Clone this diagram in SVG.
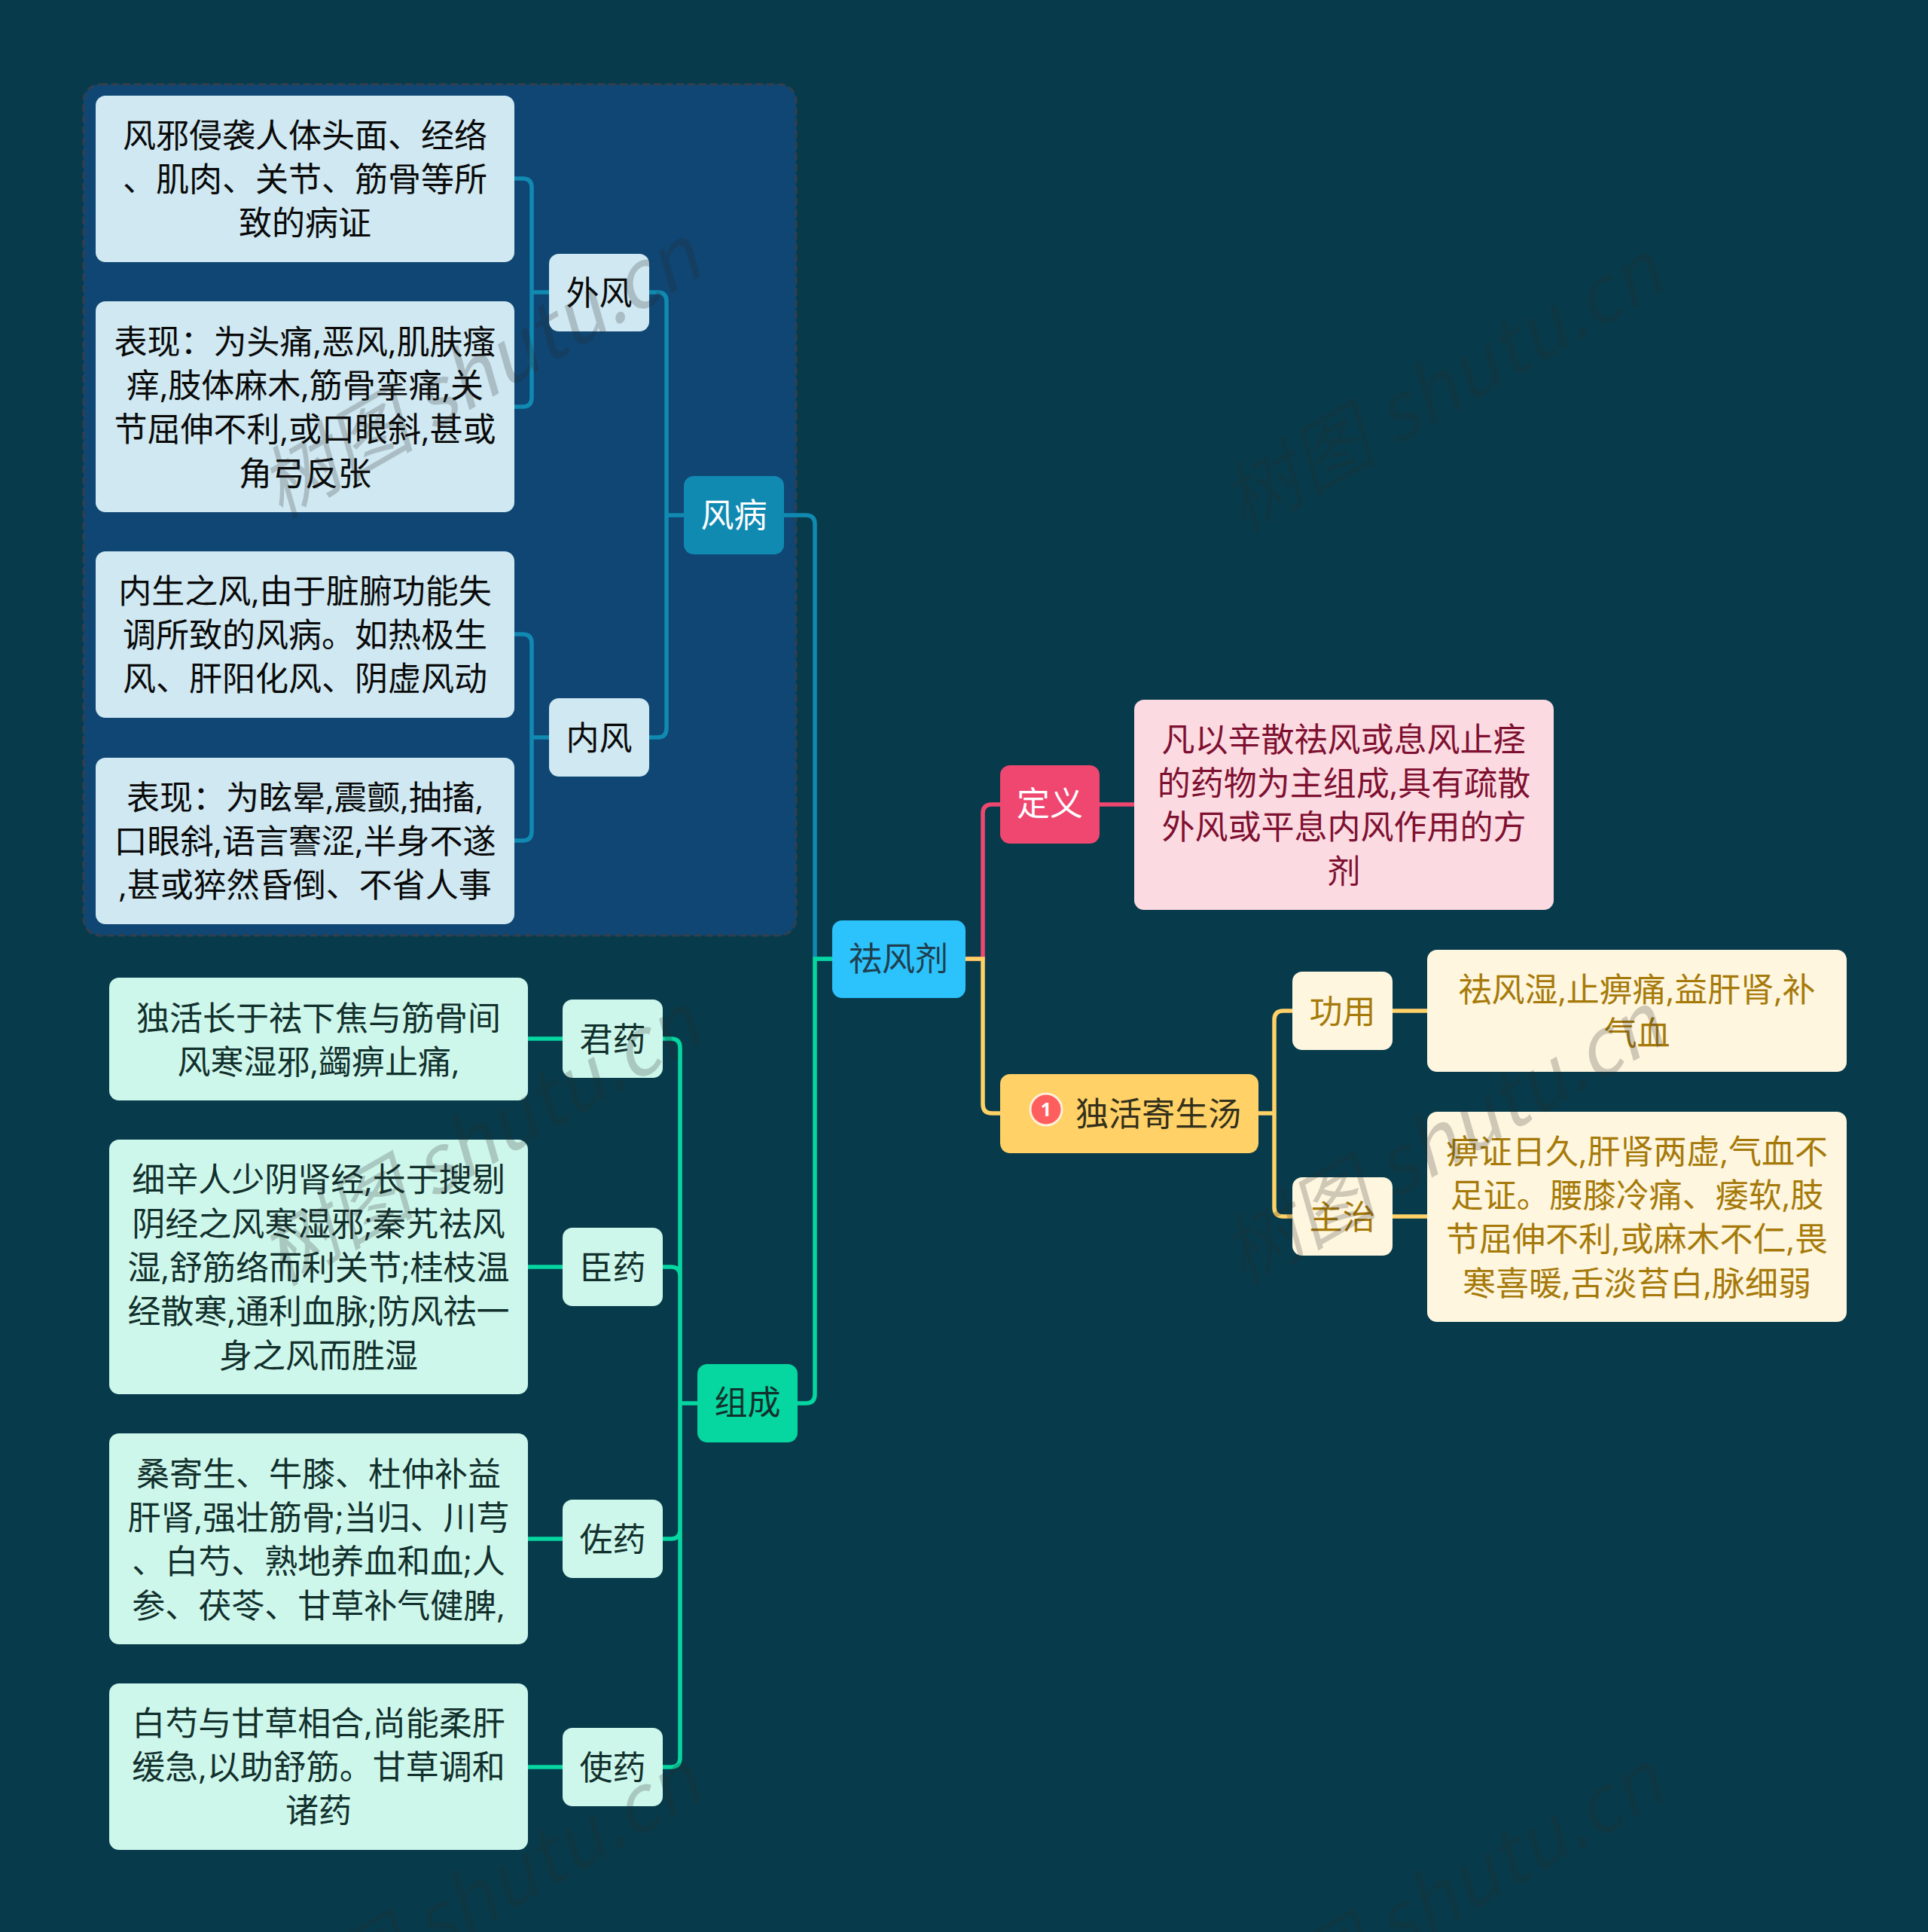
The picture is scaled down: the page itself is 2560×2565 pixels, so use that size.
<svg xmlns="http://www.w3.org/2000/svg" width="2560" height="2565" viewBox="0 0 2560 2565">
<style>
text{font-family:"Open Sans","Noto Sans CJK SC","Noto Sans",sans-serif;font-size:44px;text-anchor:middle}
.cn{fill:none;stroke-width:5.500;stroke-linecap:butt}
.b{stroke:#118AB2}.g{stroke:#06D6A0}.r{stroke:#EF476F}.y{stroke:#FFD166}
.lb{fill:#CFE8F1}.lg{fill:#CEF7EC}.ly{fill:#FFF6DF}.lr{fill:#FCDAE2}
.tb{fill:#0a0a0a}.tg{fill:#12302c}.ty{fill:#A67A0A}.tr{fill:#7E1030}
.wm text{font-family:"Noto Sans CJK SC","Noto Sans",sans-serif;font-size:104px;font-style:italic;fill:#2a2a2a;opacity:.22}
</style>
<rect width="2560" height="2565" fill="#073B4C"/>
<rect id="boundary" x="111" y="112" width="946" height="1130" rx="22" fill="#0F4673" stroke="#333F4C" stroke-width="3" stroke-dasharray="10 5"/>
<g id="connectors">
<path class="cn b" d="M1105 1273H1082V696Q1082 684 1070 684H1041"/>
<path class="cn g" d="M1105 1273H1082V1851Q1082 1863 1070 1863H1059"/>
<path class="cn r" d="M1282 1273H1305V1080Q1305 1068 1317 1068H1328"/>
<path class="cn y" d="M1282 1273H1305V1466Q1305 1478 1317 1478H1328"/>
<path class="cn r" d="M1460 1068H1506"/>
<path class="cn y" d="M1671 1478H1692M1716 1342H1704Q1692 1342 1692 1354V1603Q1692 1615 1704 1615H1716"/>
<path class="cn y" d="M1849 1342H1896M1849 1615H1896"/>
<path class="cn b" d="M908 684H885M862 388H873Q885 388 885 400V967Q885 979 873 979H862"/>
<path class="cn b" d="M729 388H706M683 237H694Q706 237 706 249V528Q706 540 694 540H683"/>
<path class="cn b" d="M729 979H706M683 842H694Q706 842 706 854V1104Q706 1116 694 1116H683"/>
<path class="cn g" d="M926 1863H903M880 1379H891Q903 1379 903 1391V2334Q903 2346 891 2346H880M880 1682H891Q903 1682 903 1694M880 2043H891Q903 2043 903 2031"/>
<path class="cn g" d="M747 1379H701M747 1682H701M747 2043H701M747 2346H701"/>
</g>
<g id="root"><rect x="1105" y="1222" width="177" height="103" rx="13" fill="#2CC3FC"/><text x="1193" y="1289" fill="#1F3F4F">祛风剂</text></g>
<g id="n-fengbing"><rect x="908" y="632" width="133" height="104" rx="13" fill="#118AB2"/><text x="974.500" y="700" fill="#fff">风病</text></g>
<g id="n-waifeng"><rect x="729" y="337" width="133" height="103" rx="13" class="lb"/><text x="795.500" y="405" class="tb">外风</text></g>
<g id="n-neifeng"><rect x="729" y="927" width="133" height="104" rx="13" class="lb"/><text x="795.500" y="996" class="tb">内风</text></g>
<g id="l-wf1"><rect x="127" y="127" width="556" height="221" rx="13" class="lb"/><text class="tb"><tspan x="405" y="195.700">风邪侵袭人体头面、经络</tspan><tspan x="405" y="254">、肌肉、关节、筋骨等所</tspan><tspan x="405" y="312.300">致的病证</tspan></text></g>
<g id="l-wf2"><rect x="127" y="400" width="556" height="280" rx="13" class="lb"/><text class="tb"><tspan x="405" y="469.600">表现：为头痛,恶风,肌肤瘙</tspan><tspan x="405" y="527.900">痒,肢体麻木,筋骨挛痛,关</tspan><tspan x="405" y="586.200">节屈伸不利,或口眼斜,甚或</tspan><tspan x="405" y="644.500">角弓反张</tspan></text></g>
<g id="l-nf1"><rect x="127" y="732" width="556" height="221" rx="13" class="lb"/><text class="tb"><tspan x="405" y="800.700">内生之风,由于脏腑功能失</tspan><tspan x="405" y="859">调所致的风病。如热极生</tspan><tspan x="405" y="917.300">风、肝阳化风、阴虚风动</tspan></text></g>
<g id="l-nf2"><rect x="127" y="1006" width="556" height="221" rx="13" class="lb"/><text class="tb"><tspan x="405" y="1074.700">表现：为眩晕,震颤,抽搐,</tspan><tspan x="405" y="1133">口眼斜,语言謇涩,半身不遂</tspan><tspan x="405" y="1191.300">,甚或猝然昏倒、不省人事</tspan></text></g>
<g id="n-zucheng"><rect x="926" y="1811" width="133" height="104" rx="13" fill="#06D6A0"/><text x="992.500" y="1878" fill="#12302C">组成</text></g>
<g id="n-jun"><rect x="747" y="1327" width="133" height="104" rx="13" class="lg"/><text x="813.500" y="1396" class="tg">君药</text></g>
<g id="n-chen"><rect x="747" y="1630" width="133" height="104" rx="13" class="lg"/><text x="813.500" y="1699" class="tg">臣药</text></g>
<g id="n-zuo"><rect x="747" y="1991" width="133" height="104" rx="13" class="lg"/><text x="813.500" y="2060" class="tg">佐药</text></g>
<g id="n-shi"><rect x="747" y="2294" width="133" height="104" rx="13" class="lg"/><text x="813.500" y="2363" class="tg">使药</text></g>
<g id="l-jun"><rect x="145" y="1298" width="556" height="163" rx="13" class="lg"/><text class="tg"><tspan x="423" y="1367.900">独活长于祛下焦与筋骨间</tspan><tspan x="423" y="1426.200">风寒湿邪,蠲痹止痛,</tspan></text></g>
<g id="l-chen"><rect x="145" y="1513" width="556" height="338" rx="13" class="lg"/><text class="tg"><tspan x="423" y="1582.400">细辛人少阴肾经,长于搜剔</tspan><tspan x="423" y="1640.700">阴经之风寒湿邪;秦艽祛风</tspan><tspan x="423" y="1699">湿,舒筋络而利关节;桂枝温</tspan><tspan x="423" y="1757.300">经散寒,通利血脉;防风祛一</tspan><tspan x="423" y="1815.600">身之风而胜湿</tspan></text></g>
<g id="l-zuo"><rect x="145" y="1903" width="556" height="280" rx="13" class="lg"/><text class="tg"><tspan x="423" y="1972.600">桑寄生、牛膝、杜仲补益</tspan><tspan x="423" y="2030.900">肝肾,强壮筋骨;当归、川芎</tspan><tspan x="423" y="2089.200">、白芍、熟地养血和血;人</tspan><tspan x="423" y="2147.500">参、茯苓、甘草补气健脾,</tspan></text></g>
<g id="l-shi"><rect x="145" y="2235" width="556" height="221" rx="13" class="lg"/><text class="tg"><tspan x="423" y="2303.700">白芍与甘草相合,尚能柔肝</tspan><tspan x="423" y="2362">缓急,以助舒筋。甘草调和</tspan><tspan x="423" y="2420.300">诸药</tspan></text></g>
<g id="n-dingyi"><rect x="1328" y="1016" width="132" height="104" rx="13" fill="#EF476F"/><text x="1394" y="1083" fill="#fff">定义</text></g>
<g id="l-dingyi"><rect x="1506" y="929" width="557" height="279" rx="13" class="lr"/><text class="tr"><tspan x="1784.500" y="997.600">凡以辛散祛风或息风止痉</tspan><tspan x="1784.500" y="1055.900">的药物为主组成,具有疏散</tspan><tspan x="1784.500" y="1114.200">外风或平息内风作用的方</tspan><tspan x="1784.500" y="1172.500">剂</tspan></text></g>
<g id="n-duhuo"><rect x="1328" y="1426" width="343" height="105" rx="13" fill="#FFD166"/><circle cx="1389" cy="1473" r="21" fill="#FF5E5E" stroke="#FFF0DA" stroke-width="3"/><text x="1389" y="1482" fill="#fff" style="font-size:25px;font-weight:700">1</text><text x="1538" y="1495" fill="#33301C">独活寄生汤</text></g>
<g id="n-gongyong"><rect x="1716" y="1290" width="133" height="104" rx="13" class="ly"/><text x="1782.500" y="1359" class="ty">功用</text></g>
<g id="n-zhuzhi"><rect x="1716" y="1563" width="133" height="104" rx="13" class="ly"/><text x="1782.500" y="1632" class="ty">主治</text></g>
<g id="l-gongyong"><rect x="1895" y="1261" width="557" height="162" rx="13" class="ly"/><text class="ty"><tspan x="2173.500" y="1330">祛风湿,止痹痛,益肝肾,补</tspan><tspan x="2173.500" y="1388">气血</tspan></text></g>
<g id="l-zhuzhi"><rect x="1895" y="1476" width="557" height="279" rx="13" class="ly"/><text class="ty"><tspan x="2173.500" y="1544.600">痹证日久,肝肾两虚,气血不</tspan><tspan x="2173.500" y="1602.900">足证。腰膝冷痛、痿软,肢</tspan><tspan x="2173.500" y="1661.200">节屈伸不利,或麻木不仁,畏</tspan><tspan x="2173.500" y="1719.500">寒喜暖,舌淡苔白,脉细弱</tspan></text></g>
<g id="watermarks" class="wm">
<text transform="translate(655 526) rotate(-30)">树图 shutu.cn</text>
<text transform="translate(1933 546) rotate(-30)">树图 shutu.cn</text>
<text transform="translate(655 1545) rotate(-30)">树图 shutu.cn</text>
<text transform="translate(1933 1545) rotate(-30)">树图 shutu.cn</text>
<text transform="translate(655 2550) rotate(-30)">树图 shutu.cn</text>
<text transform="translate(1933 2550) rotate(-30)">树图 shutu.cn</text>
</g>
</svg>
